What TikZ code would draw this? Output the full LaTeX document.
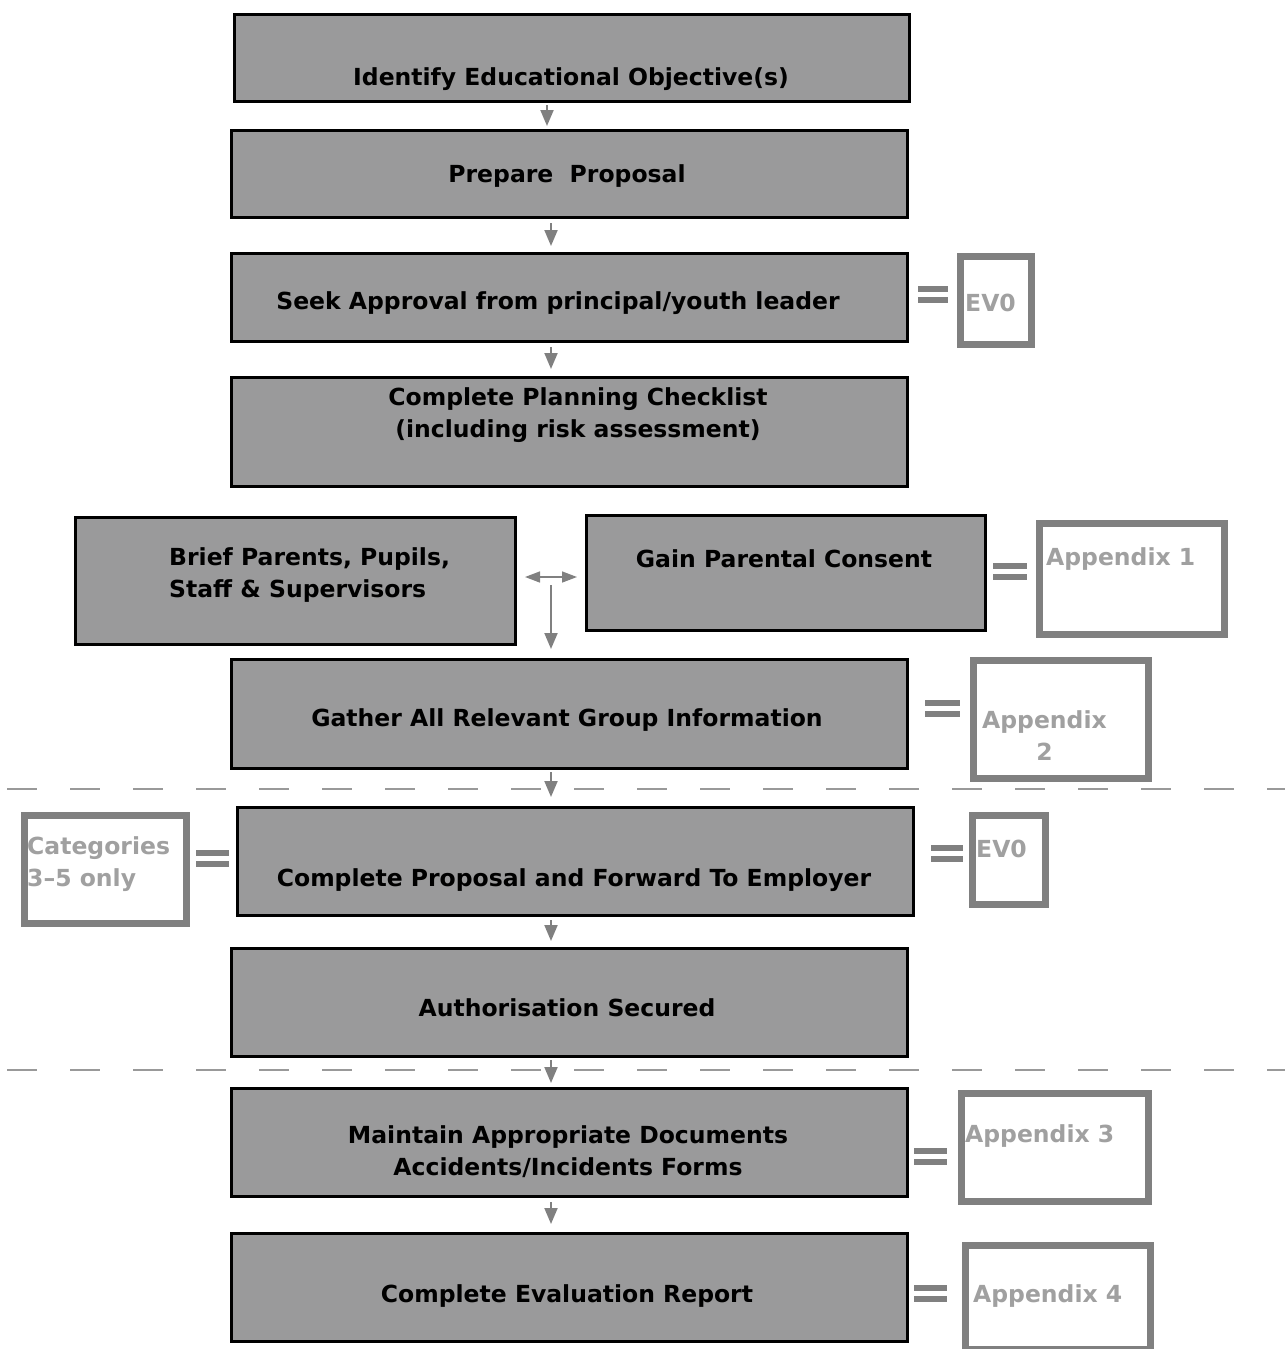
\documentclass[tikz,border=0pt]{standalone}
\usepackage{fontspec}
\setmainfont{DejaVu Sans}
\usetikzlibrary{arrows.meta}
\definecolor{boxfill}{HTML}{9A9A9B}
\definecolor{sidegray}{HTML}{808080}
\definecolor{sidetext}{HTML}{A0A0A0}
\definecolor{dashgray}{HTML}{999999}
\tikzset{
  mainbox/.style={draw=black, line width=3pt, fill=boxfill, inner sep=0pt},
  sidebox/.style={draw=sidegray, line width=7pt, fill=white, inner sep=0pt},
  mtext/.style={font=\fontsize{23.5}{32}\selectfont\bfseries, text=black, align=center, inner sep=0pt},
  stext/.style={font=\fontsize{23.5}{32}\selectfont\bfseries, text=sidetext, align=left, inner sep=0pt, anchor=west},
  flowarr/.style={draw=sidegray, line width=2pt, -{Triangle[length=16pt,width=13pt]}},
  dblarr/.style={draw=sidegray, line width=1.5pt, {Triangle[length=15pt,width=11pt]}-{Triangle[length=15pt,width=11pt]}},
  eqbar/.style={fill=sidegray, draw=none},
  sep/.style={draw=dashgray, line width=2pt, dash pattern=on 30pt off 33pt},
}
\begin{document}
\begin{tikzpicture}[x=1pt,y=-1pt]
\useasboundingbox (0,0) rectangle (1285,1349);
% separators
\draw[sep] (7,789) -- (1285,789);
\draw[sep] (7,1070) -- (1285,1070);
% main boxes
\node[mainbox, anchor=north west, minimum width=675pt, minimum height=87pt] (b1) at (233,13) {};
\node[mainbox, anchor=north west, minimum width=676pt, minimum height=87pt] (b2) at (230,129) {};
\node[mainbox, anchor=north west, minimum width=676pt, minimum height=88pt] (b3) at (230,252) {};
\node[mainbox, anchor=north west, minimum width=676pt, minimum height=109pt] (b4) at (230,376) {};
\node[mainbox, anchor=north west, minimum width=440pt, minimum height=127pt] (b5) at (74,516) {};
\node[mainbox, anchor=north west, minimum width=399pt, minimum height=115pt] (b6) at (585,514) {};
\node[mainbox, anchor=north west, minimum width=676pt, minimum height=109pt] (b7) at (230,658) {};
\node[mainbox, anchor=north west, minimum width=676pt, minimum height=108pt] (b8) at (236,806) {};
\node[mainbox, anchor=north west, minimum width=676pt, minimum height=108pt] (b9) at (230,947) {};
\node[mainbox, anchor=north west, minimum width=676pt, minimum height=108pt] (b10) at (230,1087) {};
\node[mainbox, anchor=north west, minimum width=676pt, minimum height=108pt] (b11) at (230,1232) {};
% main texts
\node[mtext] (t1) at (571,79) {Identify Educational Objective(s)};
\node[mtext] (t2) at (567,176) {Prepare\ \ Proposal};
\node[mtext] (t3) at (558,303) {Seek Approval from principal/youth leader};
\node[mtext] (t4) at (578,415) {Complete Planning Checklist\\(including risk assessment)};
\node[mtext, align=left, anchor=west] (t5) at (169,575) {Brief Parents, Pupils,\\Staff \& Supervisors};
\node[mtext] (t6) at (784,559) {Gain Parental Consent};
\node[mtext] (t7) at (567,720) {Gather All Relevant Group Information};
\node[mtext] (t8) at (574,880) {Complete Proposal and Forward To Employer};
\node[mtext] (t9) at (567,1008) {Authorisation Secured};
\node[mtext] (t10) at (568,1152) {Maintain Appropriate Documents\\Accidents/Incidents Forms};
\node[mtext] (t11) at (567,1296) {Complete Evaluation Report};
% side boxes
\node[sidebox, anchor=north west, minimum width=71pt, minimum height=88pt] (s1) at (957,253) {};
\node[stext] (st1) at (965,303) {EV0};
\node[sidebox, anchor=north west, minimum width=185pt, minimum height=111pt] (s2) at (1036,520) {};
\node[stext] (st2) at (1046,559) {Appendix 1};
\node[sidebox, anchor=north west, minimum width=175pt, minimum height=118pt] (s3) at (970,657) {};
\node[stext, align=center] (st3) at (982,736) {Appendix\\2};
\node[sidebox, anchor=north west, minimum width=162pt, minimum height=108pt] (s4) at (21,812) {};
\node[stext] (st4) at (27,864) {Categories\\3--5 only};
\node[sidebox, anchor=north west, minimum width=73pt, minimum height=89pt] (s5) at (969,812) {};
\node[stext] (st5) at (976,849) {EV0};
\node[sidebox, anchor=north west, minimum width=187pt, minimum height=108pt] (s6) at (958,1090) {};
\node[stext] (st6) at (965,1136) {Appendix 3};
\node[sidebox, anchor=north west, minimum width=185pt, minimum height=104pt] (s7) at (962,1242) {};
\node[stext] (st7) at (973,1296) {Appendix 4};
% equals signs
\foreach \x/\y/\w in {918/286/30, 993/563/34, 925/700/35, 196/850/33, 931/845/32, 914/1148/33, 914/1285/33}{
  \fill[eqbar] (\x,\y) rectangle ++(\w,6);
  \fill[eqbar] (\x,\y+11) rectangle ++(\w,6);
}
% arrows
\coordinate (axa) at (547,0);
\coordinate (axb) at (551,0);
\draw[flowarr] ([yshift=-2pt]b1.south -| axa) -- ([yshift=3pt]b2.north -| axa);
\draw[flowarr] ([yshift=-4pt]b2.south -| axb) -- ([yshift=6pt]b3.north -| axb);
\draw[flowarr] ([yshift=-4pt]b3.south -| axb) -- ([yshift=7pt]b4.north -| axb);
\coordinate (hl) at (525,577);
\coordinate (hr) at (577,577);
\draw[dblarr] (hl) -- (hr);
\coordinate (vt) at (551,585);
\draw[flowarr] (vt) -- ([yshift=9pt]b7.north -| axb);
\draw[flowarr] ([yshift=-2pt]b7.south -| axb) -- ([yshift=9pt]b8.north -| axb);
\draw[flowarr] ([yshift=-3pt]b8.south -| axb) -- ([yshift=6pt]b9.north -| axb);
\draw[flowarr] ([yshift=-2pt]b9.south -| axb) -- ([yshift=4pt]b10.north -| axb);
\draw[flowarr] ([yshift=-4pt]b10.south -| axb) -- ([yshift=8pt]b11.north -| axb);
\end{tikzpicture}
\end{document}
